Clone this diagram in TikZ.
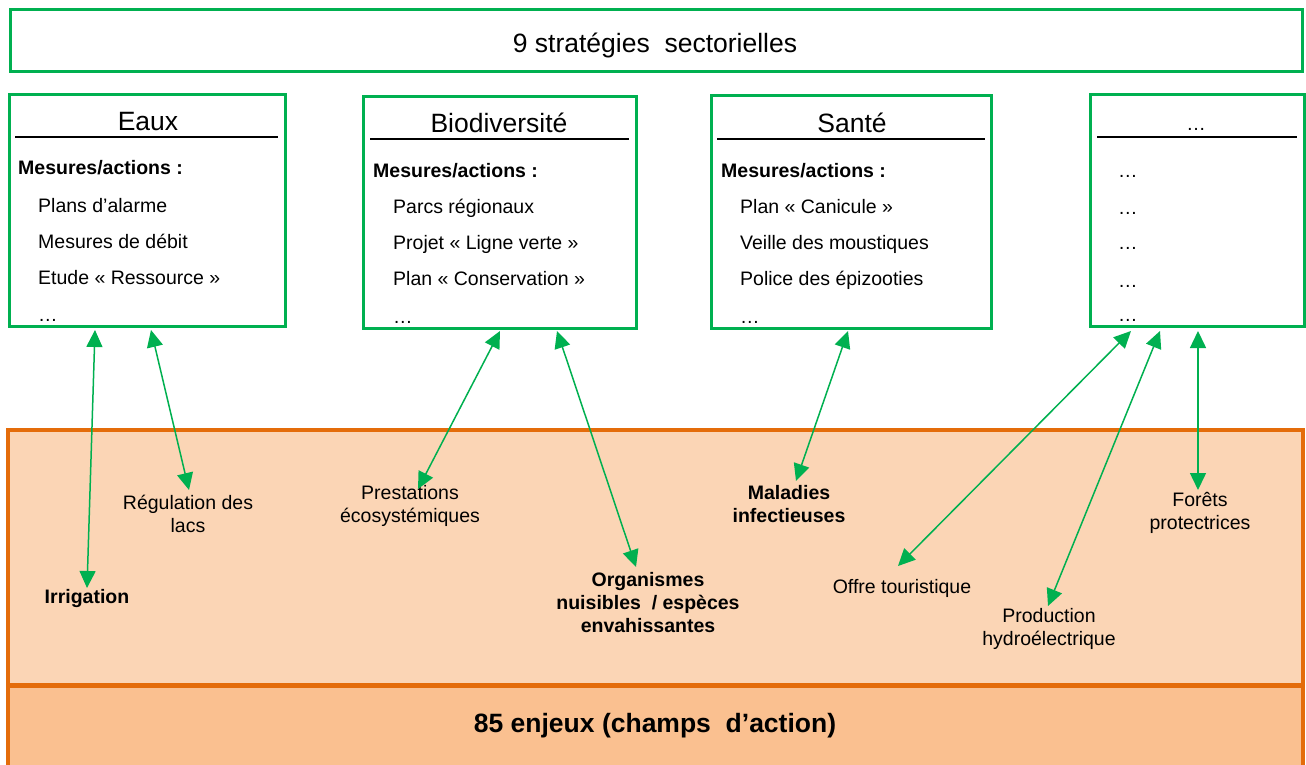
\documentclass[tikz,border=0pt]{standalone}
\usepackage{fontspec}
\setmainfont{Liberation Sans}
\usetikzlibrary{arrows.meta}
\definecolor{gr}{HTML}{00B050}
\definecolor{orb}{HTML}{E46C0A}
\definecolor{orl}{HTML}{FBD5B5}
\definecolor{ord}{HTML}{FAC090}
\begin{document}
\begin{tikzpicture}[x=1pt,y=-1pt,
  gbox/.style={draw=gr, line width=3pt, inner sep=0pt, fill=white},
  sep/.style={black, line width=1.3pt},
  ttl/.style={font=\fontsize{26.5}{30}\selectfont, inner sep=0pt, anchor=base},
  hd/.style={font=\bfseries\fontsize{19.5}{23}\selectfont, inner sep=0pt, anchor=base west},
  itm/.style={font=\fontsize{19.5}{23}\selectfont, inner sep=0pt, anchor=base west},
  lbl/.style={font=\fontsize{19.5}{23}\selectfont, inner sep=0pt, align=center},
  blbl/.style={font=\bfseries\fontsize{19.5}{23}\selectfont, inner sep=0pt, align=center},
  arr/.style={gr, line width=1.5pt, {Triangle[length=17pt,width=16pt]}-{Triangle[length=17pt,width=16pt]}}
]
\useasboundingbox (0,0) rectangle (1306,765);
\fill[white] (0,0) rectangle (1306,765);

% lower zones
\node[draw=orb, fill=orl, line width=3.5pt, inner sep=0pt, minimum width=1295pt, minimum height=255pt] (zone) at (655.5,557.5) {};
\node[draw=orb, fill=ord, line width=3.5pt, inner sep=0pt, minimum width=1295pt, minimum height=90pt] (basebox) at (655.5,731) {};
\node[font=\bfseries\fontsize{26.5}{30}\selectfont, inner sep=0pt, anchor=base] (enjeux) at (655,732) {85 enjeux (champs\ \ d’action)};

% top box
\node[gbox, minimum width=1292pt, minimum height=62pt] (top) at (656,41) {};
\node[ttl] (toptxt) at (655,53) {9 stratégies\ \ sectorielles};

% Eaux
\node[gbox, minimum width=276pt, minimum height=231pt] (eaux) at (147,210.5) {};
\node[ttl] (eauxt) at (148,131) {Eaux};
\draw[sep] (15,137) -- (278,137);
\node[hd] (eh) at (18,175) {Mesures/actions :};
\node[itm] (e1) at (38,212) {Plans d’alarme};
\node[itm] (e2) at (38,248) {Mesures de débit};
\node[itm] (e3) at (38,284) {Etude « Ressource »};
\node[itm] (e4) at (38,321) {…};

% Biodiversite
\node[gbox, minimum width=273pt, minimum height=231pt] (bio) at (499.5,212.5) {};
\node[ttl] (biot) at (499,132) {Biodiversité};
\draw[sep] (370,139) -- (629,139);
\node[hd] (bh) at (373,177) {Mesures/actions :};
\node[itm] (b1) at (393,213) {Parcs régionaux};
\node[itm] (b2) at (393,249) {Projet « Ligne verte »};
\node[itm] (b3) at (393,285) {Plan « Conservation »};
\node[itm] (b4) at (393,323) {…};

% Sante
\node[gbox, minimum width=280pt, minimum height=232pt] (sante) at (851,212) {};
\node[ttl] (santet) at (852,132) {Santé};
\draw[sep] (717,139) -- (985,139);
\node[hd] (sh) at (721,177) {Mesures/actions :};
\node[itm] (s1) at (740,213) {Plan « Canicule »};
\node[itm] (s2) at (740,249) {Veille des moustiques};
\node[itm] (s3) at (740,285) {Police des épizooties};
\node[itm] (s4) at (740,323) {…};

% ...
\node[gbox, minimum width=214pt, minimum height=231pt] (autre) at (1197,210.5) {};
\node[itm, anchor=base] (autret) at (1196,131) {…};
\draw[sep] (1097,137) -- (1297,137);
\node[itm] (o1) at (1118,177) {…};
\node[itm] (o2) at (1118,214) {…};
\node[itm] (o3) at (1118,249) {…};
\node[itm] (o4) at (1118,287) {…};
\node[itm] (o5) at (1118,321) {…};

% labels
\node[blbl] (irr) at (87,598) {Irrigation};
\node[lbl] (reg) at (188,514) {Régulation des\\lacs};
\node[lbl] (pre) at (410,506) {Prestations\\écosystémiques};
\node[blbl] (org) at (648,603) {Organismes\\nuisibles\ \ / espèces\\envahissantes};
\node[blbl] (mal) at (789,504) {Maladies\\infectieuses};
\node[lbl] (off) at (902,588) {Offre touristique};
\node[lbl] (pro) at (1049,629) {Production\\hydroélectrique};
\node[lbl] (for) at (1200,513) {Forêts\\protectrices};

% arrow ends
\coordinate (a1t) at (95,330);   \coordinate (a1b) at (87,588);
\coordinate (a2t) at (151,330);  \coordinate (a2b) at (189,490);
\coordinate (a3t) at (500,331);  \coordinate (a3b) at (418,489);
\coordinate (a4t) at (557,331);  \coordinate (a4b) at (636,567);
\coordinate (a5t) at (848,331);  \coordinate (a5b) at (796,481);
\coordinate (a6t) at (1131,331); \coordinate (a6b) at (898,566);
\coordinate (a7t) at (1160,331); \coordinate (a7b) at (1048,606);
\coordinate (a8t) at (1198,331); \coordinate (a8b) at (1198,490);

\draw[arr] (a1t) -- (a1b);
\draw[arr] (a2t) -- (a2b);
\draw[arr] (a3t) -- (a3b);
\draw[arr] (a4t) -- (a4b);
\draw[arr] (a5t) -- (a5b);
\draw[arr] (a6t) -- (a6b);
\draw[arr] (a7t) -- (a7b);
\draw[arr] (a8t) -- (a8b);
\end{tikzpicture}
\end{document}
